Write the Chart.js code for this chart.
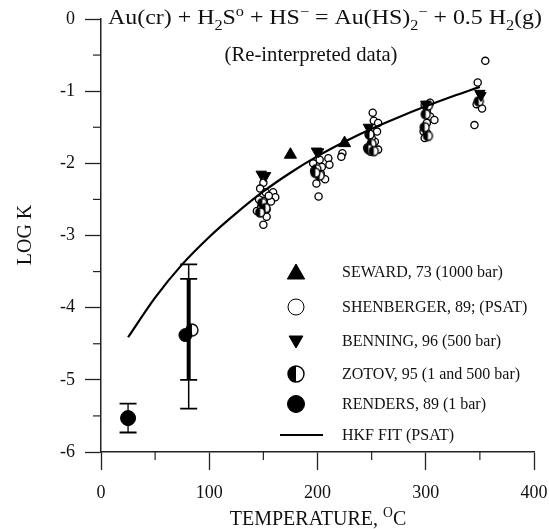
<!DOCTYPE html>
<html><head><meta charset="utf-8">
<script src="https://cdn.jsdelivr.net/npm/chart.js@4.4.1/dist/chart.umd.min.js"></script>
<style>html,body{margin:0;padding:0;background:#fff;} canvas{display:block;}</style>
</head><body>
<canvas id="c" width="549" height="529"></canvas>
<script>
// ---- data ----
const xTickValues = [0, 100, 200, 300, 400];
const yTickValues = [0, -1, -2, -3, -4, -5, -6];
const xMinorTicks = [50, 150, 250, 350];
const yMinorTicks = [-0.5, -1.5, -2.5, -3.5, -4.5, -5.5];

const hkfT    = [25, 50, 75, 100, 125, 150, 175, 200, 225, 250, 275, 300, 325, 350];
const hkfLogK = [-4.41, -3.86, -3.40, -3.02, -2.69, -2.39, -2.13, -1.90, -1.70, -1.52, -1.36, -1.21, -1.07, -0.94];

const sewardT    = [175, 225];
const sewardLogK = [-1.88, -1.72];

const shenT    = [150, 147, 152, 159, 161, 150, 144, 148, 153, 153, 150, 157, 155, 146,
                  202, 210, 211, 196, 197, 203, 207, 199, 201, 204, 223, 222,
                  251, 252, 256, 255, 253, 246, 249, 256, 250,
                  304, 299, 301, 304, 308, 301, 298, 301, 299,
                  355, 348, 347, 352, 345];
const shenLogK = [-2.27, -2.35, -2.40, -2.40, -2.47, -2.52, -2.66, -2.60, -2.64, -2.74, -2.85, -2.53, -2.45, -2.50,
                  -1.95, -1.93, -2.02, -2.00, -2.10, -2.14, -2.22, -2.28, -2.46, -2.05, -1.86, -1.91,
                  -1.30, -1.41, -1.44, -1.56, -1.70, -1.78, -1.84, -1.81, -1.65,
                  -1.16, -1.19, -1.28, -1.35, -1.40, -1.44, -1.56, -1.58, -1.65,
                  -0.58, -0.88, -1.18, -1.24, -1.47];

const benningT    = [148, 152, 199, 201, 247, 300, 350, 351];
const benningLogK = [-2.15, -2.17, -1.83, -1.84, -1.50, -1.18, -1.03, -1.06];

const zotovT    = [84, 149, 152, 147, 199, 202, 198, 248, 250, 247, 252, 302, 300, 299, 302, 349];
const zotovLogK = [-4.31, -2.55, -2.62, -2.68, -2.08, -2.17, -2.13, -1.60, -1.73, -1.80, -1.83, -1.20, -1.32, -1.50, -1.62, -1.14];

const rendersT    = [25, 78];
const rendersLogK = [-5.53, -4.38];

// error bars: x, centre, half-width, line width
const errT      = [25, 81, 81];
const errCentre = [-5.53, -4.40, -4.30];
const errHalf   = [0.20, 1.00, 0.70];
const errWidth  = [1.3, 1.5, 4];

const legendLabels = ['SEWARD, 73 (1000 bar)', 'SHENBERGER, 89; (PSAT)', 'BENNING, 96 (500 bar)',
                      'ZOTOV, 95 (1 and 500 bar)', 'RENDERS, 89 (1 bar)', 'HKF FIT (PSAT)'];

// ---- helpers ----
const SERIF = '"Liberation Serif", "DejaVu Serif", serif';
const INK = '#111';
function pts(xs, ys) { return xs.map((x, i) => ({ x: x, y: ys[i] })); }

function halfCircle(r) {
  const s = Math.ceil(2 * r + 4);
  const c = document.createElement('canvas');
  c.width = c.height = s;
  const g = c.getContext('2d');
  const m = s / 2;
  g.beginPath(); g.arc(m, m, r, 0, 2 * Math.PI); g.fillStyle = '#fff'; g.fill();
  g.beginPath(); g.arc(m, m, r, Math.PI / 2, Math.PI * 1.5); g.closePath(); g.fillStyle = '#000'; g.fill();
  g.beginPath(); g.arc(m, m, r, 0, 2 * Math.PI); g.lineWidth = 1.4; g.strokeStyle = '#000'; g.stroke();
  return c;
}
const zotovSmall = halfCircle(4.5);
const zotovBig = halfCircle(6);
const zotovLegend = halfCircle(8);

// draws mixed text with sub/superscripts; optional target width stretches horizontally
function richText(ctx, segs, x, y, base, align, targetWidth) {
  const small = base * 0.68;
  let total = 0;
  const widths = segs.map(s => {
    ctx.font = ((s.sub || s.sup) ? small : base) + 'px ' + SERIF;
    const w = ctx.measureText(s.t).width;
    total += w; return w;
  });
  const k = targetWidth ? targetWidth / total : 1;
  ctx.save();
  let start = align === 'center' ? x - total * k / 2 : x;
  ctx.translate(start, y);
  ctx.scale(k, 1);
  ctx.textBaseline = 'alphabetic';
  ctx.textAlign = 'left';
  let cx = 0;
  segs.forEach((s, i) => {
    ctx.font = ((s.sub || s.sup) ? small : base) + 'px ' + SERIF;
    const dy = s.sub ? base * 0.3 : (s.sup ? -base * 0.4 : 0);
    ctx.fillText(s.t, cx, dy);
    cx += widths[i];
  });
  ctx.restore();
}

const decor = {
  id: 'decor',
  afterDatasetsDraw(chart) {
    const ctx = chart.ctx;
    const xs = chart.scales.x, ys = chart.scales.y;
    const area = chart.chartArea;
    ctx.save();
    ctx.strokeStyle = '#222';
    ctx.lineWidth = 1.2;
    yMinorTicks.forEach(v => {
      const py = ys.getPixelForValue(v);
      ctx.beginPath(); ctx.moveTo(area.left - 8, py); ctx.lineTo(area.left, py); ctx.stroke();
    });
    xMinorTicks.forEach(v => {
      const px = xs.getPixelForValue(v);
      ctx.beginPath(); ctx.moveTo(px, area.bottom); ctx.lineTo(px, area.bottom + 8); ctx.stroke();
    });
    ctx.strokeStyle = '#000';
    errT.forEach((t, i) => {
      const px = xs.getPixelForValue(t);
      const top = ys.getPixelForValue(errCentre[i] + errHalf[i]);
      const bot = ys.getPixelForValue(errCentre[i] - errHalf[i]);
      ctx.lineWidth = errWidth[i];
      ctx.beginPath(); ctx.moveTo(px, top); ctx.lineTo(px, bot); ctx.stroke();
      ctx.lineWidth = 1.8;
      ctx.beginPath();
      ctx.moveTo(px - 8.5, top); ctx.lineTo(px + 8.5, top);
      ctx.moveTo(px - 8.5, bot); ctx.lineTo(px + 8.5, bot);
      ctx.stroke();
    });
    ctx.restore();
  },
  afterDraw(chart) {
    const ctx = chart.ctx;
    ctx.save();
    ctx.fillStyle = INK;
    richText(ctx, [
      { t: 'Au(cr) + H' }, { t: '2', sub: true }, { t: 'S' }, { t: 'o', sup: true },
      { t: ' + HS' }, { t: '\u2212', sup: true }, { t: ' = Au(HS)' }, { t: '2', sub: true },
      { t: '\u2212', sup: true }, { t: ' + 0.5 H' }, { t: '2', sub: true }, { t: '(g)' }
    ], 108, 24, 21, 'left', 434);
    richText(ctx, [{ t: '(Re-interpreted data)' }], 311, 61, 21, 'center', 173);
    richText(ctx, [{ t: 'TEMPERATURE, ' }, { t: 'O', sup: true }, { t: 'C' }], 318, 525, 20, 'center');
    ctx.save();
    ctx.translate(31, 235);
    ctx.rotate(-Math.PI / 2);
    ctx.font = '20px ' + SERIF;
    ctx.textAlign = 'center'; ctx.textBaseline = 'alphabetic';
    ctx.fillText('LOG K', 0, 0);
    ctx.restore();

    // legend
    const symX = 296, txtX = 342;
    const rowY = [272, 307, 341, 374, 404, 435];
    const H = Chart.helpers;
    ctx.fillStyle = '#000'; ctx.strokeStyle = '#000';
    H.drawPoint(ctx, { pointStyle: 'triangle', radius: 10, rotation: 0, borderWidth: 1 }, symX, rowY[0] + 2);
    ctx.fillStyle = '#fff';
    H.drawPoint(ctx, { pointStyle: 'circle', radius: 8, rotation: 0, borderWidth: 1.4 }, symX, rowY[1]);
    ctx.fillStyle = '#000';
    H.drawPoint(ctx, { pointStyle: 'triangle', radius: 8, rotation: 180, borderWidth: 1 }, symX, rowY[2] - 1);
    ctx.drawImage(zotovLegend, symX - zotovLegend.width / 2, rowY[3] - zotovLegend.height / 2);
    H.drawPoint(ctx, { pointStyle: 'circle', radius: 8.5, rotation: 0, borderWidth: 1 }, symX, rowY[4]);
    ctx.lineWidth = 2;
    ctx.beginPath(); ctx.moveTo(280, rowY[5]); ctx.lineTo(323, rowY[5]); ctx.stroke();
    ctx.fillStyle = INK;
    ctx.font = '16px ' + SERIF;
    ctx.textAlign = 'left'; ctx.textBaseline = 'middle';
    legendLabels.forEach((l, i) => ctx.fillText(l, txtX, rowY[i] + 1));
    ctx.restore();
  }
};

new Chart(document.getElementById('c'), {
  type: 'scatter',
  data: {
    datasets: [
      { label: 'HKF FIT (PSAT)', type: 'line', data: pts(hkfT, hkfLogK), borderColor: '#000', borderWidth: 2.2,
        pointRadius: 0, cubicInterpolationMode: 'monotone', fill: false, order: 0 },
      { label: 'SHENBERGER', data: pts(shenT, shenLogK), pointStyle: 'circle', pointRadius: 3.6,
        backgroundColor: '#fff', borderColor: '#000', borderWidth: 1.3, order: 5 },
      { label: 'ZOTOV', data: pts(zotovT, zotovLogK),
        pointStyle: ctx => ctx.dataIndex === 0 ? zotovBig : zotovSmall, pointRadius: 5, order: 4 },
      { label: 'BENNING', data: pts(benningT, benningLogK), pointStyle: 'triangle', rotation: 180,
        pointRadius: 6, backgroundColor: '#000', borderColor: '#000', borderWidth: 1, order: 3 },
      { label: 'SEWARD', data: pts(sewardT, sewardLogK), pointStyle: 'triangle', pointRadius: 7,
        backgroundColor: '#000', borderColor: '#000', borderWidth: 1, order: 2 },
      { label: 'RENDERS', data: pts(rendersT, rendersLogK), pointStyle: 'circle', pointRadius: [7.5, 6.5],
        backgroundColor: '#000', borderColor: '#000', borderWidth: 1, order: 1 }
    ]
  },
  options: {
    responsive: false,
    animation: false,
    layout: { padding: { left: 0, top: 19, right: 15, bottom: 0 } },
    plugins: { legend: { display: false }, tooltip: { enabled: false }, title: { display: false } },
    scales: {
      x: {
        type: 'linear', min: 0, max: 400,
        afterBuildTicks: s => { s.ticks = xTickValues.map(v => ({ value: v })); },
        afterFit: s => { s.height = 77; s.paddingLeft = 0; s.paddingRight = 0; },
        ticks: { color: INK, font: { family: SERIF, size: 18 }, padding: 12, maxRotation: 0 },
        grid: { drawOnChartArea: false, drawTicks: true, tickLength: 18, tickWidth: 1.3, tickColor: '#222' },
        border: { display: true, color: '#222', width: 1.5 }
      },
      y: {
        type: 'linear', min: -6, max: 0,
        afterBuildTicks: s => { s.ticks = yTickValues.map(v => ({ value: v })); },
        afterFit: s => { s.width = 101; s.paddingTop = 0; s.paddingBottom = 0; },
        ticks: { color: INK, font: { family: SERIF, size: 18 }, padding: 10 },
        grid: { drawOnChartArea: false, drawTicks: true, tickLength: 16, tickWidth: 1.3, tickColor: '#222' },
        border: { display: true, color: '#222', width: 1.5 }
      }
    }
  },
  plugins: [decor]
});
</script>
</body></html>
